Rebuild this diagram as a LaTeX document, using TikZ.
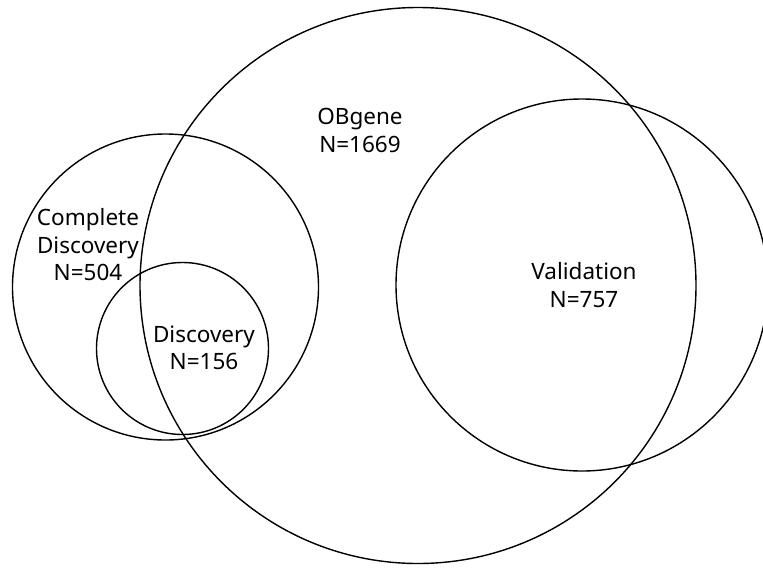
\documentclass[tikz,border=0pt]{standalone}
\usepackage{fontspec}
\setmainfont{Noto Sans}
\begin{document}
\begin{tikzpicture}[x=1pt,y=-1pt,
  setcircle/.style={draw=black,line width=1.4pt},
  lbl/.style={align=center,font=\fontsize{22.5}{27.5}\selectfont,inner sep=0pt}]
\useasboundingbox (0,0) rectangle (763,576);
\begin{scope}
\clip (0,0) rectangle (763,576);
\draw[setcircle] (418,285.5) circle[radius=278];
\draw[setcircle] (582,285) circle[radius=186];
\draw[setcircle] (165.5,287) circle[radius=153];
\draw[setcircle] (182.5,348.5) circle[radius=86];
\end{scope}
\node[lbl] (obgene) at (360,130.5) {OBgene\\N=1669};
\node[lbl] (valid) at (584,285) {Validation\\N=757};
\node[lbl] (compl) at (88,245) {Complete\\Discovery\\N=504};
\node[lbl] (disc) at (204,348) {Discovery\\N=156};
\end{tikzpicture}
\end{document}
